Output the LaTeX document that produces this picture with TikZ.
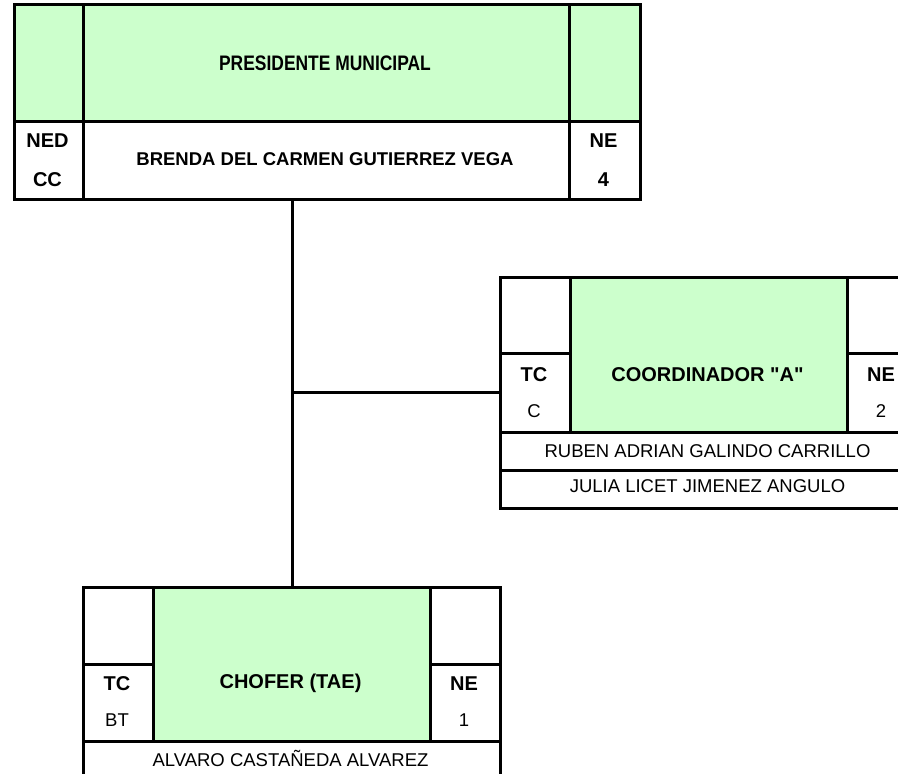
\documentclass[tikz,border=0pt]{standalone}
\usepackage{fontspec}
\setmainfont{Liberation Sans}[Ligatures=TeXOff]
\definecolor{cellgreen}{HTML}{CCFFCC}
\begin{document}
\begin{tikzpicture}[x=1pt,y=-1pt,
  cell/.style={draw=black, line width=3pt, inner sep=0pt, anchor=north west, fill=white},
  gcell/.style={cell, fill=cellgreen},
  bl/.style={font=\fontsize{20}{24}\selectfont\bfseries, inner sep=0pt, text height=14.3pt, text depth=0pt},
  bn/.style={font=\fontsize{18.5}{22}\selectfont\bfseries, inner sep=0pt, text height=13.2pt, text depth=0pt},
  rg/.style={font=\fontsize{18.5}{22}\selectfont, inner sep=0pt, text height=13.2pt, text depth=0pt},
  link/.style={draw=black, line width=3pt}]
\path[use as bounding box, fill=white] (0,0) rectangle (898,774);
\clip (0,0) rectangle (898,774);

% ---------- Presidente Municipal ----------
\node[gcell, minimum width=69pt, minimum height=117pt] (p-tl) at (13,3) {};
\node[gcell, minimum width=486pt, minimum height=117pt] (p-tm) at (82,3) {};
\node[gcell, minimum width=71pt, minimum height=117pt] (p-tr) at (568,3) {};
\node[cell, minimum width=69pt, minimum height=78pt] (p-bl) at (13,120) {};
\node[cell, minimum width=486pt, minimum height=78pt] (p-bm) at (82,120) {};
\node[cell, minimum width=71pt, minimum height=78pt] (p-br) at (568,120) {};
\node[inner sep=0pt, font=\fontsize{21}{25}\selectfont\bfseries, text height=15pt, text depth=0pt] (p-title) at (325,62.5) {\scalebox{0.83}[1]{PRESIDENTE MUNICIPAL}};
\node[bn] (p-name) at (325,158.5) {BRENDA DEL CARMEN GUTIERREZ VEGA};
\node[bl] (p-ned) at (47.5,140.5) {NED};
\node[bl] (p-cc) at (47.5,179) {CC};
\node[bl] (p-ne) at (603.5,140.5) {NE};
\node[bl] (p-4) at (603.5,179) {4};

% ---------- Coordinador "A" ----------
\node[cell, minimum width=70pt, minimum height=76pt] (c-tl) at (499,276) {};
\node[cell, minimum width=70pt, minimum height=79pt] (c-ml) at (499,352) {};
\node[gcell, minimum width=277pt, minimum height=155pt] (c-g) at (569,276) {};
\node[cell, minimum width=70pt, minimum height=76pt] (c-tr) at (846,276) {};
\node[cell, minimum width=70pt, minimum height=79pt] (c-mr) at (846,352) {};
\node[cell, minimum width=417pt, minimum height=38pt] (c-n1) at (499,431) {};
\node[cell, minimum width=417pt, minimum height=38pt] (c-n2) at (499,469) {};
\node[bl] (c-tc) at (534,374.5) {TC};
\node[rg] (c-c) at (534,410.5) {C};
\node[bl] (c-title) at (707.5,374.5) {COORDINADOR "A"};
\node[bl] (c-ne) at (881,374.5) {NE};
\node[rg] (c-2) at (881,410.5) {2};
\node[rg] (c-name1) at (707.5,450.5) {RUBEN ADRIAN GALINDO CARRILLO};
\node[rg] (c-name2) at (707.5,486) {JULIA LICET JIMENEZ ANGULO};

% ---------- Chofer (TAE) ----------
\node[cell, minimum width=70pt, minimum height=77pt] (h-tl) at (82,586) {};
\node[cell, minimum width=70pt, minimum height=77pt] (h-ml) at (82,663) {};
\node[gcell, minimum width=277pt, minimum height=154pt] (h-g) at (152,586) {};
\node[cell, minimum width=70pt, minimum height=77pt] (h-tr) at (429,586) {};
\node[cell, minimum width=70pt, minimum height=77pt] (h-mr) at (429,663) {};
\node[cell, minimum width=417pt, minimum height=38pt] (h-n1) at (82,740) {};
\node[bl] (h-tc) at (117,683) {TC};
\node[rg] (h-bt) at (117,720) {BT};
\node[bl] (h-title) at (290.5,681.5) {CHOFER (TAE)};
\node[bl] (h-ne) at (464,683) {NE};
\node[rg] (h-1) at (464,720) {1};
\node[rg] (h-name1) at (290.5,759.5) {ALVARO CASTAÑEDA ALVAREZ};

% ---------- Connectors ----------
\draw[link] (h-g.north) -- (h-g.north |- p-bm.south);
\coordinate (j) at (h-g.north |- 0,392);
\draw[link] (j) -- (c-ml.west |- j);
\end{tikzpicture}
\end{document}
